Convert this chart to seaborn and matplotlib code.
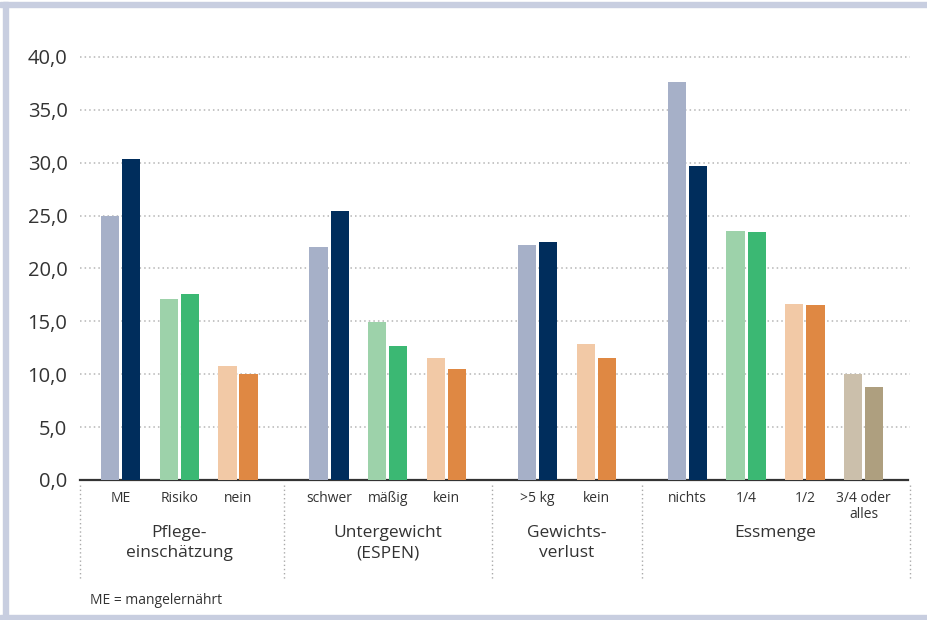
import numpy as np
import pandas as pd
import matplotlib
matplotlib.use("Agg")
import matplotlib.pyplot as plt
from matplotlib.patches import Rectangle
import seaborn as sns

# ── data ────────────────────────────────────────────────────────────────
groups = ["Pflege-\neinschätzung", "Untergewicht\n(ESPEN)", "Gewichts-\nverlust", "Essmenge"]
categories = [["ME", "Risiko", "nein"],
              ["schwer", "mäßig", "kein"],
              [">5 kg", "kein"],
              ["nichts", "1/4", "1/2", "3/4 oder\nalles"]]
light_values = [[25.0, 17.1, 10.8],
                [22.0, 14.9, 11.5],
                [22.2, 12.9],
                [37.6, 23.5, 16.6, 10.0]]
dark_values = [[30.3, 17.6, 10.0],
               [25.4, 12.7, 10.5],
               [22.5, 11.5],
               [29.7, 23.4, 16.55, 8.8]]
color_keys = [["blue", "green", "orange"],
              ["blue", "green", "orange"],
              ["blue", "orange"],
              ["blue", "green", "orange", "taupe"]]
yticks = [0, 5, 10, 15, 20, 25, 30, 35, 40]

palette = {
    "blue_light": "#A6B0C8", "blue_dark": "#002D5C",
    "green_light": "#9DD2AA", "green_dark": "#3BB873",
    "orange_light": "#F2C9A6", "orange_dark": "#DF8843",
    "taupe_light": "#CBBFAB", "taupe_dark": "#AE9F7F",
}

# ── layout of the category axis ─────────────────────────────────────────
GROUP_GAP = 1.55
PAIR_OFFSET = 0.18

rows = []
cat_pos, cat_lab, group_centers, separators = [], [], [], []
pos = 0.0
for g, cats in enumerate(categories):
    start = pos
    for c, name in enumerate(cats):
        cat_pos.append(pos)
        cat_lab.append(name)
        key = color_keys[g][c]
        rows.append({"x": round(pos - PAIR_OFFSET, 3), "value": light_values[g][c], "col": key + "_light"})
        rows.append({"x": round(pos + PAIR_OFFSET, 3), "value": dark_values[g][c], "col": key + "_dark"})
        pos += 1
    group_centers.append((start + pos - 1) / 2)
    pos += GROUP_GAP - 1
    separators.append(pos - GROUP_GAP / 2)
df = pd.DataFrame(rows)

xmin, xmax = -0.69, cat_pos[-1] + 0.79
sep_x = [xmin] + separators[:-1] + [xmax]

# ── figure ──────────────────────────────────────────────────────────────
sns.set_theme(style="white")
plt.rcParams["font.family"] = ["Open Sans", "DejaVu Sans"]
text_color = "#333333"

fig = plt.figure(figsize=(9.28, 6.2), dpi=100)
ax = fig.add_axes([80 / 928, (620 - 480) / 620, (910 - 80) / 928, (480 - 41) / 620])

sns.barplot(data=df, x="x", y="value", hue="col", palette=palette,
            native_scale=True, dodge=False, width=0.86, errorbar=None,
            saturation=1, linewidth=0, legend=False, ax=ax, zorder=3)

ax.set_xlim(xmin, xmax)
ax.set_ylim(0, 41.5)
ax.set_yticks(yticks)
ax.set_yticklabels([f"{t:.1f}".replace(".", ",") for t in yticks],
                   fontsize=14.5, color=text_color)
ax.tick_params(axis="y", length=0, pad=9)
ax.set_xticks([])
ax.set_xlabel("")
ax.set_ylabel("")
for t in yticks[1:]:
    ax.axhline(t, color="#B5B5B5", linewidth=1.1, linestyle=(0, (1, 2)), zorder=1)
sns.despine(ax=ax, left=True, right=True, top=True, bottom=False)
ax.spines["bottom"].set_color("#333333")
ax.spines["bottom"].set_linewidth(1.6)
ax.spines["bottom"].set_bounds(xmin, xmax - 0.04)

# category labels
for p, lab in zip(cat_pos, cat_lab):
    ax.text(p, -1.0, lab, ha="center", va="top", fontsize=10,
            color=text_color, linespacing=1.15, clip_on=False)
# group labels
for p, lab in zip(group_centers, groups):
    ax.text(p, -4.3, lab, ha="center", va="top", fontsize=12.5,
            color=text_color, linespacing=1.3, clip_on=False)
# dotted separators
for sx in sep_x:
    ax.plot([sx, sx], [-0.5, -9.4], color="#AAAAAA", linewidth=1.0,
            linestyle=(0, (1, 2)), clip_on=False)

fig.text(90 / 928, 1 - 601 / 620, "ME = mangelernährt", fontsize=10,
         color=text_color, va="center", ha="left")

# frame bands
band = "#C8CEE0"
fig.patches.append(Rectangle((0, 1 - 7 / 620), 1, 5 / 620, transform=fig.transFigure,
                             color=band, zorder=0))
fig.patches.append(Rectangle((3 / 928, 0), 5 / 928, 1 - 2 / 620, transform=fig.transFigure,
                             color=band, zorder=0))
fig.patches.append(Rectangle((0, 0), 1, 5 / 620, transform=fig.transFigure,
                             color=band, zorder=0))

fig.savefig("out.png", dpi=100)
